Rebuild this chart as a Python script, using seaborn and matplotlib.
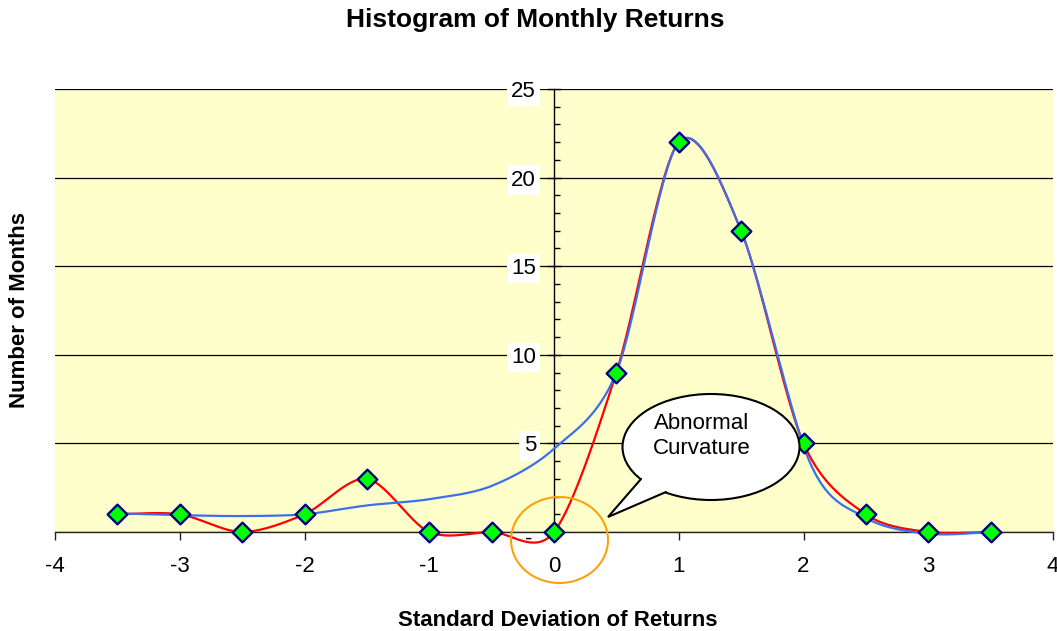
import numpy as np
import matplotlib
matplotlib.use("Agg")
import matplotlib.pyplot as plt
import matplotlib.transforms as mtransforms
import seaborn as sns
from matplotlib.patches import Ellipse, Polygon
from matplotlib.ticker import MultipleLocator, FixedLocator, FuncFormatter

# ---- data ----
std_dev = [-3.5, -3.0, -2.5, -2.0, -1.5, -1.0, -0.5, 0.0, 0.5, 1.0, 1.5, 2.0, 2.5, 3.0, 3.5]
months = [1, 1, 0, 1, 3, 0, 0, 0, 9, 22, 17, 5, 1, 0, 0]
fit_x = [-3.5, -3.0, -2.5, -2.0, -1.5, -1.0, -0.5, 0.0, 0.5, 1.0, 1.5, 2.05, 2.5, 3.0, 3.5]
fit_y = [1.05, 0.95, 0.9, 1.0, 1.5, 1.85, 2.6, 4.7, 9.0, 22.0, 17.0, 3.95, 0.8, -0.1, 0.0]
x_ticks = [-4, -3, -2, -1, 0, 1, 2, 3, 4]
y_ticks = [0, 5, 10, 15, 20, 25]


def smooth(xs, ys, n=30, k=0.5):
    """Excel-style smoothed line (parametric Catmull-Rom through the points)."""
    P = np.column_stack([xs, ys]).astype(float)
    P = np.vstack([P[0], P, P[-1]])
    t = np.linspace(0, 1, n, endpoint=False)[:, None]
    h00 = 2 * t**3 - 3 * t**2 + 1
    h10 = t**3 - 2 * t**2 + t
    h01 = -2 * t**3 + 3 * t**2
    h11 = t**3 - t**2
    segs = []
    for i in range(1, len(P) - 2):
        p0, p1, p2, p3 = P[i - 1], P[i], P[i + 1], P[i + 2]
        m1 = (p2 - p0) * k
        m2 = (p3 - p1) * k
        segs.append(h00 * p1 + h10 * m1 + h01 * p2 + h11 * m2)
    segs.append(P[-2][None, :])
    out = np.vstack(segs)
    return out[:, 0], out[:, 1]


sns.set_theme(style="white")
plt.rcParams["font.family"] = ["Liberation Sans", "DejaVu Sans"]
plt.rcParams["axes.unicode_minus"] = False
plt.rcParams["text.color"] = "black"
plt.rcParams["xtick.color"] = "black"
plt.rcParams["ytick.color"] = "black"
plt.rcParams["xtick.labelcolor"] = "black"
plt.rcParams["ytick.labelcolor"] = "black"

fig = plt.figure(figsize=(10.57, 6.31), dpi=100)
ax = fig.add_axes([55 / 1057, 99 / 631, 998 / 1057, 443 / 631])
ax.set_facecolor("#FFFFCC")

rx, ry = smooth(std_dev, months, k=0.45)
bx, by = smooth(fit_x, fit_y, k=0.45)
sns.lineplot(x=rx, y=ry, sort=False, estimator=None, color="#FF0000", lw=1.6, ax=ax, zorder=3)
sns.lineplot(x=bx, y=by, sort=False, estimator=None, color="#3B6FEB", lw=1.6, ax=ax, zorder=4)
for ln in ax.lines:
    ln.set_clip_on(False)
sns.scatterplot(x=std_dev, y=months, marker="D", s=100, color="#00FF00",
                edgecolor="#000080", linewidth=1.7, ax=ax, zorder=5, clip_on=False)

ax.set_xlim(-4, 4)
ax.set_ylim(0, 25)
ax.xaxis.set_major_locator(FixedLocator(x_ticks))
ax.yaxis.set_major_locator(FixedLocator(y_ticks))
ax.yaxis.set_minor_locator(MultipleLocator(1))
ax.yaxis.set_major_formatter(FuncFormatter(lambda v, p: "-" if v == 0 else f"{int(v)}"))

for s in ["top", "right"]:
    ax.spines[s].set_visible(False)
ax.spines["left"].set_position(("data", 0))
ax.spines["left"].set_color("black")
ax.spines["left"].set_linewidth(1.0)
ax.spines["bottom"].set_color("#222222")
ax.spines["bottom"].set_linewidth(1.0)

ax.yaxis.grid(True, color="black", lw=0.9)
ax.xaxis.grid(False)
ax.set_axisbelow(True)

ax.tick_params(axis="x", which="major", direction="out", length=6, width=1,
               color="#222222", labelsize=16, pad=11, bottom=True)
ax.tick_params(axis="y", which="major", direction="inout", length=10, width=1,
               color="black", labelsize=16, pad=8, left=True)
ax.tick_params(axis="y", which="minor", direction="in", length=4, width=1,
               color="black", left=True)
shift = mtransforms.ScaledTranslation(-4 / 100, -5 / 100, fig.dpi_scale_trans)
for tk, val in zip(ax.yaxis.get_major_ticks(), y_ticks):
    if val != 0:
        tk.label1.set_bbox(dict(facecolor="white", edgecolor="none", pad=3))
        tk.label1.set_zorder(2.5)
    else:
        tk.label1.set_zorder(6)
        tk.label1.set_transform(tk.label1.get_transform() + shift)

ax.set_xlabel("")
ax.set_ylabel("")

# titles / labels
fig.text(535 / 1057, 1 - 20 / 631, "Histogram of Monthly Returns",
         ha="center", va="center", fontsize=19, fontweight="bold")
fig.text(558 / 1057, 1 - 620 / 631, "Standard Deviation of Returns",
         ha="center", va="center", fontsize=16, fontweight="bold")
fig.text(20 / 1057, 1 - 310 / 631, "Number of Months",
         ha="center", va="center", fontsize=16, fontweight="bold", rotation=90)


def d(px, py):
    return ((px - 554) / 124.75, (532 - py) / 17.72)


# orange highlight circle
cx, cy = d(559.5, 540)
ax.add_patch(Ellipse((cx, cy), 97 / 124.75, 86 / 17.72, facecolor="none",
                     edgecolor="#FFA010", lw=1.5, clip_on=False, zorder=7))

# speech bubble
ex, ey = d(711, 447)
ax.add_patch(Ellipse((ex, ey), 177 / 124.75, 106 / 17.72, facecolor="white",
                     edgecolor="black", lw=1.5, clip_on=False, zorder=8))
a, b, tip = d(641, 479), d(666, 492), d(608, 517)
inner = d(655, 470)
ax.add_patch(Polygon([a, tip, b, d(672, 480), inner], closed=True, facecolor="white",
                     edgecolor="none", clip_on=False, zorder=9))
ax.plot([a[0], tip[0], b[0]], [a[1], tip[1], b[1]], color="black", lw=1.5,
        clip_on=False, zorder=10, solid_joinstyle="miter")
tx, ty = d(702, 436)
ax.text(tx, ty, "Abnormal\nCurvature", ha="center", va="center", fontsize=16,
        linespacing=1.25, zorder=11)

fig.savefig("out.png", dpi=100)
